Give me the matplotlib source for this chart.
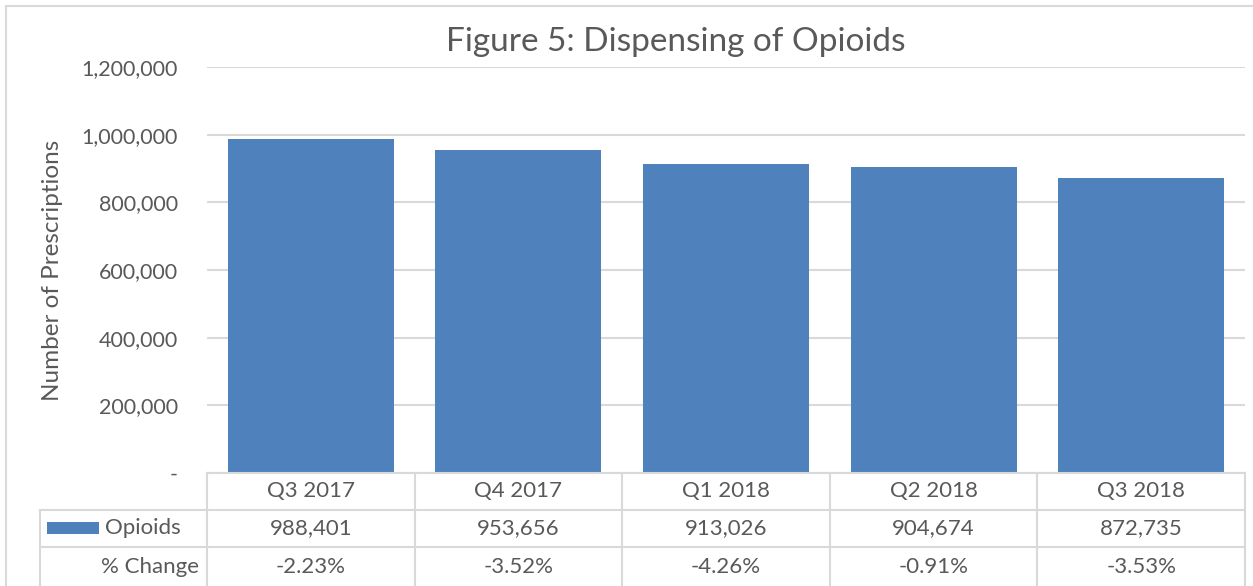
import matplotlib
matplotlib.use("Agg")
import matplotlib.pyplot as plt
from matplotlib.patches import Rectangle
from matplotlib.lines import Line2D
from matplotlib.ticker import FuncFormatter

categories = ["Q3 2017", "Q4 2017", "Q1 2018", "Q2 2018", "Q3 2018"]
opioids = [988401, 953656, 913026, 904674, 872735]
pct_change = ["-2.23%", "-3.52%", "-4.26%", "-0.91%", "-3.53%"]
series_name = "Opioids"
row2_name = "% Change"
title = "Figure 5: Dispensing of Opioids"
ylabel = "Number of Prescriptions"

BLUE = "#4F81BD"
TXT = "#595959"
GRID = "#D9D9D9"
FONT = "Lato"

W, H = 1253, 586
fig = plt.figure(figsize=(W / 100, H / 100), dpi=100)

def fx(px):
    return px / W

def fy(py):
    return 1 - py / H

# outer chart border
fig.patches.append(Rectangle((fx(6), fy(700)), fx(1300), fy(6) - fy(700),
                             transform=fig.transFigure, fill=False,
                             edgecolor=GRID, linewidth=1.5))

left, right, top, bottom = 207, 1245, 67, 473
ax = fig.add_axes([fx(left), fy(bottom), fx(right - left), fy(top) - fy(bottom)])
x = list(range(len(categories)))
ax.bar(x, opioids, width=0.8, color=BLUE, zorder=3)
ax.set_xlim(-0.5, len(categories) - 0.5)
ax.set_ylim(0, 1200000)
ax.set_yticks(range(0, 1200001, 200000))
ax.yaxis.set_major_formatter(FuncFormatter(lambda v, p: "-" if v == 0 else f"{int(v):,}"))
ax.grid(axis="y", color=GRID, linewidth=1.5, zorder=0)
for s in ax.spines.values():
    s.set_visible(False)
ax.tick_params(axis="y", length=0, pad=21, labelsize=15.5, labelcolor=TXT)
for lbl in ax.get_yticklabels():
    lbl.set_fontfamily(FONT)
ax.set_xticks([])
ax.set_ylabel(ylabel, fontsize=17.5, color=TXT, fontfamily=FONT)
ax.yaxis.set_label_coords((63 - left) / (right - left), 0.5)

fig.text(fx(676), fy(42), title, ha="center", va="center", fontsize=24,
         color=TXT, fontfamily=FONT)

# data table
row_lines = [473, 510, 547]
col_w = (right - left) / len(categories)
col_edges = [left + i * col_w for i in range(len(categories) + 1)]
lw = 1.5
fig.lines.append(Line2D([fx(left), fx(right)], [fy(473), fy(473)], transform=fig.transFigure, color=GRID, lw=lw))
for yy in row_lines[1:]:
    fig.lines.append(Line2D([fx(40), fx(right)], [fy(yy), fy(yy)], transform=fig.transFigure, color=GRID, lw=lw))
for xe in col_edges:
    fig.lines.append(Line2D([fx(xe), fx(xe)], [fy(473), fy(600)], transform=fig.transFigure, color=GRID, lw=lw))
fig.lines.append(Line2D([fx(40), fx(40)], [fy(510), fy(600)], transform=fig.transFigure, color=GRID, lw=lw))

row_centers = [491.5, 528.5, 567]
fs = 16
for i, c in enumerate(categories):
    cx = fx(left + (i + 0.5) * col_w)
    fig.text(cx, fy(row_centers[0]), c, ha="center", va="center", fontsize=fs, color=TXT, fontfamily=FONT)
    fig.text(cx, fy(row_centers[1]), f"{opioids[i]:,}", ha="center", va="center", fontsize=fs, color=TXT, fontfamily=FONT)
    fig.text(cx, fy(row_centers[2]), pct_change[i], ha="center", va="center", fontsize=fs, color=TXT, fontfamily=FONT)

fig.patches.append(Rectangle((fx(47), fy(534)), fx(52), fy(522) - fy(534),
                             transform=fig.transFigure, facecolor=BLUE, edgecolor="none"))
fig.text(fx(105), fy(row_centers[1]), series_name, ha="left", va="center", fontsize=fs, color=TXT, fontfamily=FONT)
fig.text(fx(199), fy(row_centers[2]), row2_name, ha="right", va="center", fontsize=fs, color=TXT, fontfamily=FONT)

fig.savefig("out.png", dpi=100, facecolor="white")
